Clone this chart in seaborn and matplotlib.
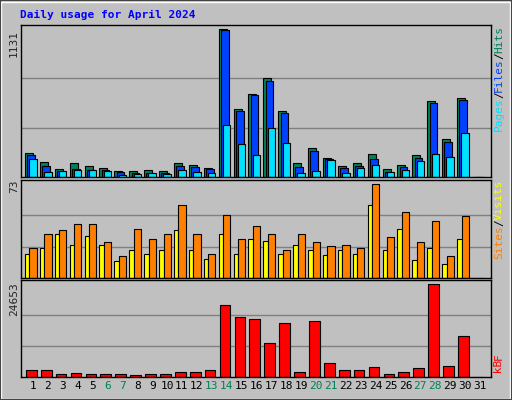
"""
Webalizer style daily usage chart for April 2024.
"""

import matplotlib.pyplot as plt
import numpy as np
import seaborn as sns
from matplotlib.patches import Rectangle

days = list(range(1, 32))
hits = [185, 116, 62, 108, 85, 69, 46, 46, 54, 46, 108, 93, 69, 1131, 517,
        632, 756, 504, 108, 218, 147, 85, 108, 177, 62, 93, 170, 581, 293, 601, 0]
files = [170, 85, 46, 62, 54, 54, 39, 31, 31, 31, 85, 77, 62, 1126, 501,
         625, 733, 491, 77, 200, 139, 69, 85, 139, 39, 77, 147, 563, 270, 586, 0]
pages = [139, 39, 46, 54, 54, 46, 15, 23, 31, 23, 54, 39, 31, 401, 254,
         170, 378, 262, 31, 46, 131, 31, 69, 93, 39, 54, 123, 177, 154, 339, 0]
sites = [19, 23, 34, 26, 33, 26, 13, 22, 19, 22, 37, 22, 15, 34, 19,
         30, 29, 19, 26, 22, 18, 22, 19, 57, 22, 38, 14, 23, 11, 30, 0]
visits = [23, 34, 37, 42, 42, 28, 17, 38, 30, 34, 57, 34, 19, 49, 30,
          40, 34, 22, 34, 28, 25, 26, 23, 73, 32, 51, 28, 44, 17, 48, 0]
kbytes = [1876, 1876, 804, 1072, 804, 804, 804, 447, 804, 804, 1340, 1340, 1876,
          19026, 15810, 15274, 9111, 14202, 1340, 14738, 3752, 1876, 1876, 2680,
          804, 1340, 2412, 24653, 2948, 10987, 0]
weekend_days = [6, 7, 13, 14, 20, 21, 27, 28]

BG = "#C0C0C0"
sns.set_style("white")
plt.rcParams["font.family"] = ["DejaVu Sans Mono"]

W, H = 512, 400
fig = plt.figure(figsize=(W / 100, H / 100), dpi=100, facecolor=BG)

# bevelled frame
fig.patches.append(Rectangle((1 / W, 1 / H), (W - 3) / W, (H - 3) / H, transform=fig.transFigure,
                             fill=False, edgecolor="white", lw=1))
fig.patches.append(Rectangle((0, 0), 1, 1, transform=fig.transFigure,
                             fill=False, edgecolor="#444444", lw=1.5))


def make_axes(top_px, bottom_px, vmax, bar_top_px):
    ax = fig.add_axes([21 / W, (H - bottom_px) / H, 470 / W, (bottom_px - top_px) / H])
    ax.set_facecolor(BG)
    ax.set_xlim(0.2, 31.74)
    ax.set_ylim(0, vmax * (bottom_px - top_px) / (bottom_px - bar_top_px))
    for k in (1, 2):
        ax.axhline(vmax * k / 3, color="#808080", lw=1, zorder=0)
    ax.set_xticks([])
    ax.set_yticks([])
    for s in ax.spines.values():
        s.set_color("black")
        s.set_linewidth(1)
    return ax


x = np.array(days)
u = 1 / 14.9
edge = dict(edgecolor="black", linewidth=0.8, align="edge")

ax1 = make_axes(25, 177, 1131, 29)
ax1.bar(x - 8 * u, hits, width=8 * u, color="#00805C", **edge)
ax1.bar(x - 5.7 * u, files, width=7.7 * u, color="#0040FF", **edge)
ax1.bar(x - 3.7 * u, pages, width=7.4 * u, color="#00E0FF", **edge)

ax2 = make_axes(180, 278, 73, 184)
ax2.bar(x - 8 * u, sites, width=4.5 * u, color="#FFFF00", **edge)
ax2.bar(x - 3.5 * u, visits, width=7.2 * u, color="#FF8000", **edge)

ax3 = make_axes(280, 377, 24653, 284)
ax3.bar(x - 7 * u, kbytes, width=10.7 * u, color="#FF0000", **edge)

# day labels
for d in days:
    ax3.text(d, -0.04, str(d), transform=ax3.get_xaxis_transform(), ha="center", va="top",
             fontsize=8, color="#00805C" if d in weekend_days else "black")

fig.text(20 / W, 1 - 15 / H, "Daily usage for April 2024", color="#0000FF", fontsize=8,
         fontweight="bold", va="center", ha="left")

for label, ypx in (("1131", 30), ("73", 180), ("24653", 282)):
    fig.text(14 / W, 1 - ypx / H, label, rotation=90, fontsize=8, ha="center", va="top")


def right_legend(parts, top_px):
    y = 1 - top_px / H
    for txt, col in parts:
        t = fig.text(499 / W, y, txt, rotation=90, color=col, fontsize=8, ha="center", va="top")
        y -= len(txt) * 6.5 / H


right_legend([("Hits", "#00805C"), ("/", "black"), ("Files", "#0040FF"),
              ("/", "black"), ("Pages", "#00E0FF")][::1], 26)
right_legend([("Visits", "#FFFF00"), ("/", "black"), ("Sites", "#FF8000")], 180)
right_legend([("F", "#FF0000"), (" kB", "#FF0000")], 353)

fig.savefig("out.png", dpi=100, facecolor=BG)
